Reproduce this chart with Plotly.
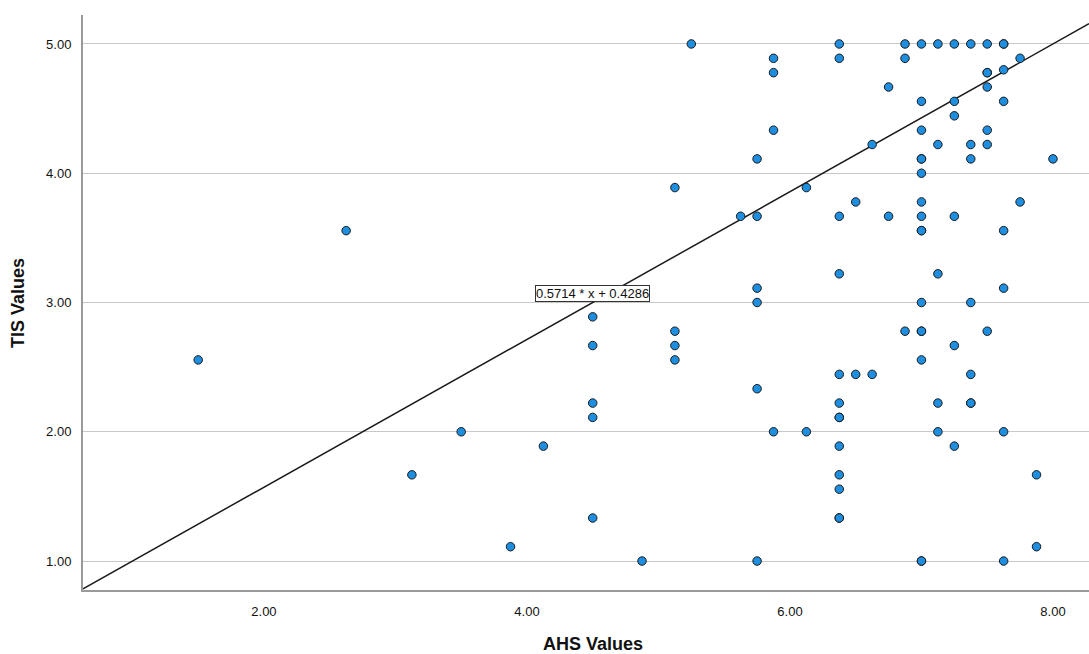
import plotly.graph_objects as go

# AHS (x) and TIS (y) values
ahs = [1.5, 2.625, 3.125, 3.5, 3.875, 4.125,
       4.5, 4.5, 4.5, 4.5, 4.5,
       4.875,
       5.125, 5.125, 5.125, 5.125,
       5.25, 5.625,
       5.75, 5.75, 5.75, 5.75, 5.75, 5.75,
       5.875, 5.875, 5.875, 5.875,
       6.125, 6.125,
       6.375, 6.375, 6.375, 6.375, 6.375, 6.375, 6.375, 6.375, 6.375, 6.375, 6.375, 6.375, 6.375,
       6.5, 6.5,
       6.625, 6.625,
       6.75, 6.75,
       6.875, 6.875, 6.875,
       7.0, 7.0, 7.0, 7.0, 7.0, 7.0, 7.0, 7.0, 7.0, 7.0, 7.0, 7.0, 7.0, 7.0, 7.0, 7.0,
       7.125, 7.125, 7.125, 7.125, 7.125,
       7.25, 7.25, 7.25, 7.25, 7.25, 7.25,
       7.375, 7.375, 7.375, 7.375, 7.375, 7.375, 7.375,
       7.5, 7.5, 7.5, 7.5, 7.5, 7.5, 7.5,
       7.625, 7.625, 7.625, 7.625, 7.625, 7.625, 7.625, 7.625,
       7.75, 7.75,
       7.875, 7.875,
       8.0]
tis = [2.556, 3.556, 1.667, 2.0, 1.111, 1.889,
       2.889, 2.667, 2.222, 2.111, 1.333,
       1.0,
       3.889, 2.778, 2.667, 2.556,
       5.0, 3.667,
       4.111, 3.667, 3.111, 3.0, 2.333, 1.0,
       4.889, 4.778, 4.333, 2.0,
       3.889, 2.0,
       5.0, 4.889, 3.667, 3.222, 2.444, 2.222, 2.111, 2.111, 1.889, 1.667, 1.556, 1.333, 1.333,
       3.778, 2.444,
       4.222, 2.444,
       4.667, 3.667,
       5.0, 4.889, 2.778,
       5.0, 4.556, 4.333, 4.111, 4.111, 4.0, 3.778, 3.667, 3.556, 3.556, 3.0, 2.778, 2.778, 2.556, 1.0, 1.0,
       5.0, 4.222, 3.222, 2.222, 2.0,
       5.0, 4.556, 4.444, 3.667, 2.667, 1.889,
       5.0, 4.222, 4.111, 3.0, 2.444, 2.222, 2.222,
       5.0, 4.778, 4.667, 4.333, 4.222, 2.778, 4.778,
       5.0, 4.8, 4.556, 3.556, 3.111, 2.0, 1.0, 5.0,
       4.889, 3.778,
       1.667, 1.111,
       4.111]

slope = 0.5714
intercept = 0.4286
x_range = [0.624, 8.274]
y_range = [0.776, 5.224]
x_ticks = [2, 4, 6, 8]
x_tick_labels = ["2.00", "4.00", "6.00", "8.00"]
y_ticks = [1, 2, 3, 4, 5]
y_tick_labels = ["1.00", "2.00", "3.00", "4.00", "5.00"]
eq_label = "0.5714 * x + 0.4286"
x_title = "AHS Values"
y_title = "TIS Values"

FONT = "Arial, Liberation Sans, sans-serif"

fig = go.Figure()
fig.add_trace(go.Scatter(
    x=x_range, y=[slope * v + intercept for v in x_range],
    mode="lines", line=dict(color="#1a1a1a", width=1.5),
    showlegend=False, hoverinfo="skip"))
fig.add_trace(go.Scatter(
    x=ahs, y=tis, mode="markers",
    marker=dict(size=8.5, color="#1e8fe0", line=dict(color="#1a1a1a", width=1)),
    showlegend=False))

fig.add_annotation(
    x=4.5, y=3.07, text=eq_label, showarrow=False,
    font=dict(family=FONT, size=13, color="#111"),
    bgcolor="white", bordercolor="#333", borderwidth=1, borderpad=0)

fig.add_annotation(
    xref="paper", yref="paper", x=0.507, y=-0.094, text=x_title,
    showarrow=False, xanchor="center", yanchor="middle",
    font=dict(family=FONT, size=18, color="#111", weight="bold"))
fig.add_annotation(
    xref="paper", yref="paper", x=-0.0646, y=0.499, text=y_title,
    showarrow=False, xanchor="center", yanchor="middle", textangle=-90,
    font=dict(family=FONT, size=18, color="#111", weight="bold"))

fig.update_layout(
    width=1089, height=654,
    margin=dict(l=83, r=0, t=15, b=64),
    paper_bgcolor="white", plot_bgcolor="white",
    font=dict(family=FONT, color="#111"),
    xaxis=dict(range=x_range, tickvals=x_ticks, ticktext=x_tick_labels,
               showgrid=False, zeroline=False, showline=True,
               linecolor="#9a9a9a", linewidth=2, ticks="",
               tickfont=dict(size=13), ticklabelstandoff=8),
    yaxis=dict(range=y_range, tickvals=y_ticks, ticktext=y_tick_labels,
               showgrid=True, gridcolor="#c8c8c8", gridwidth=1,
               zeroline=False, showline=True,
               linecolor="#9a9a9a", linewidth=2, ticks="",
               tickfont=dict(size=13), ticklabelstandoff=7),
)

fig.write_html("out.html", config={"displayModeBar": False},
               post_script="document.body.style.margin='0';")
